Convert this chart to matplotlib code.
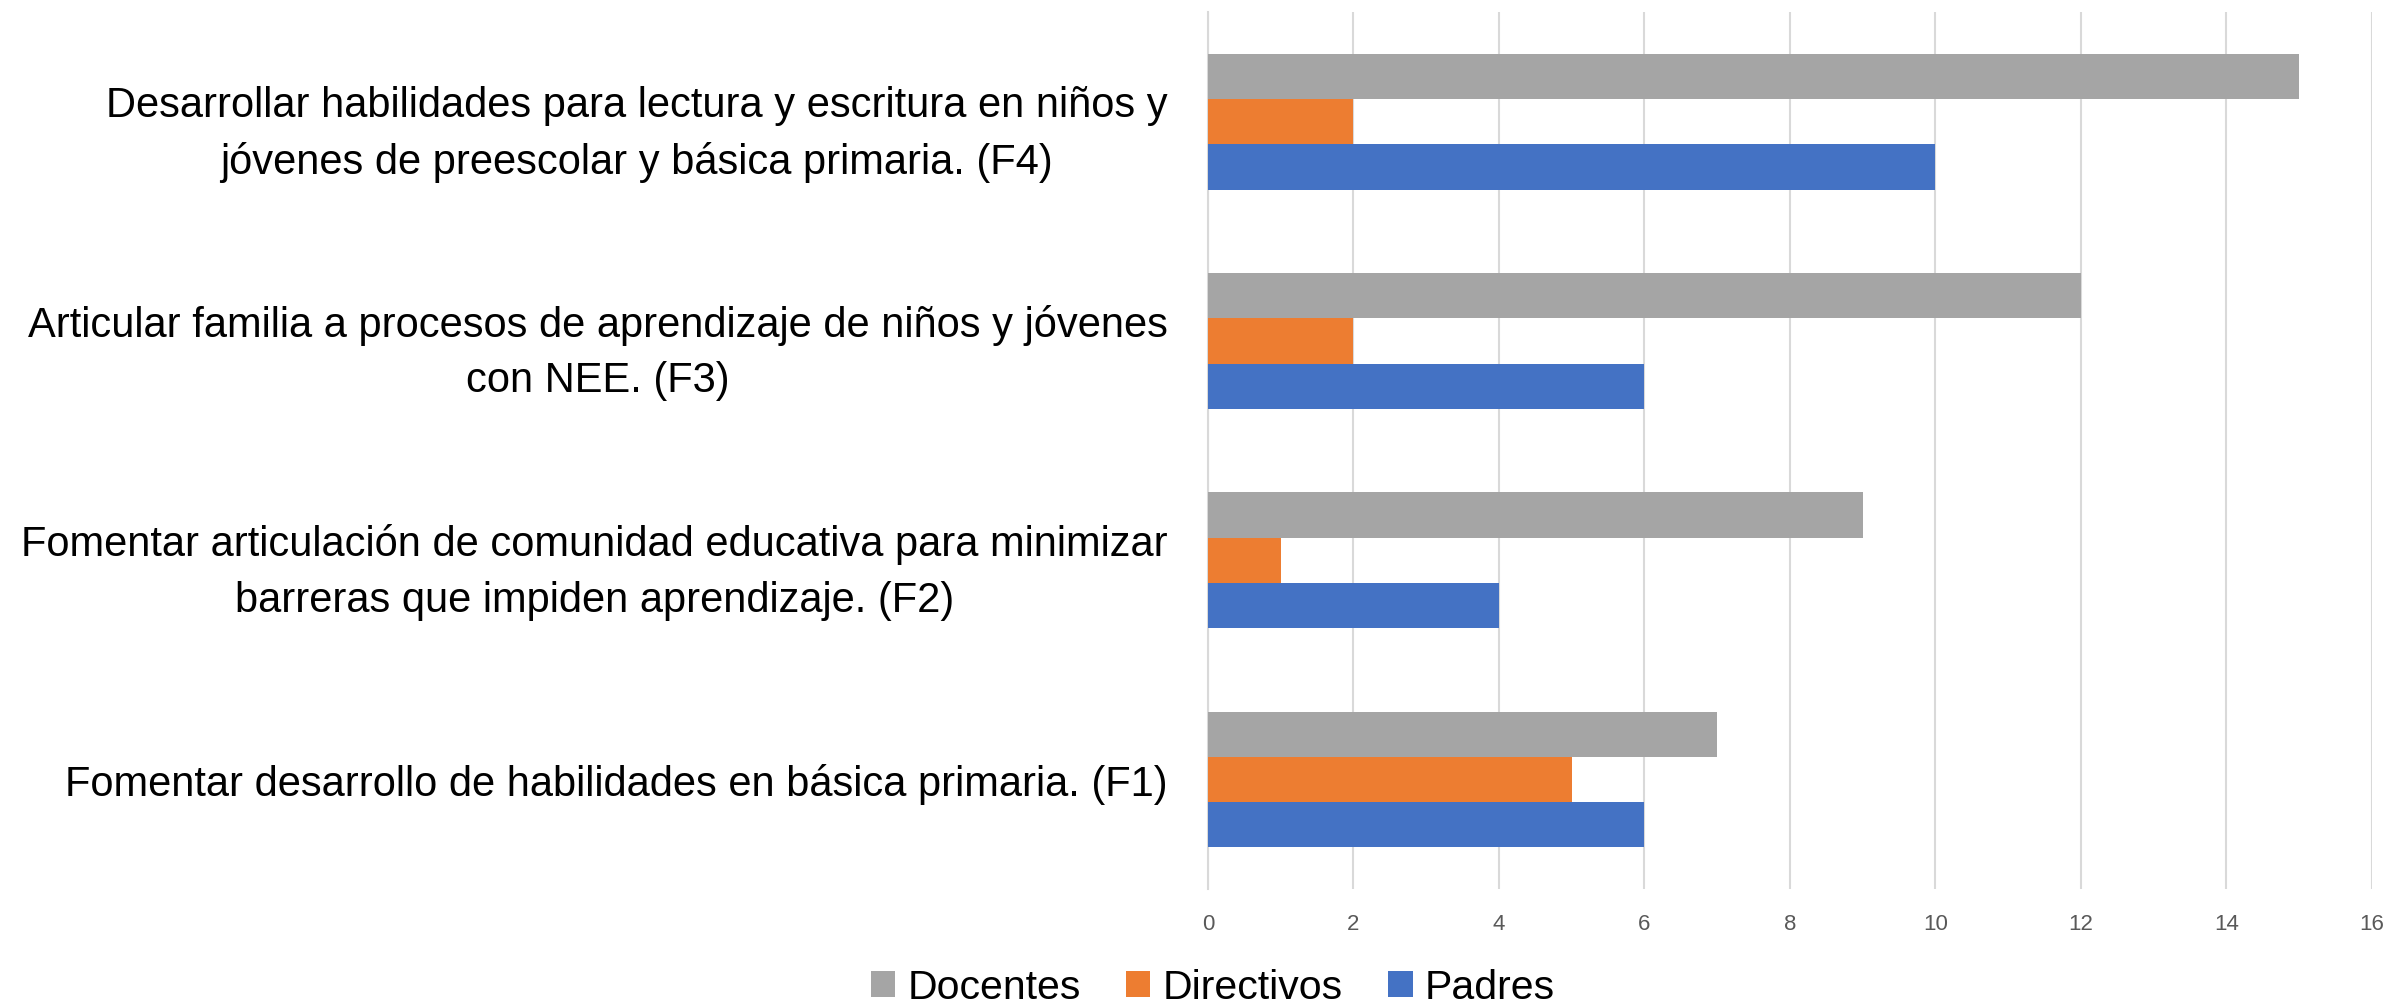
import matplotlib

matplotlib.use("Agg")
import matplotlib.pyplot as plt
import numpy as np

categories = [
    "Fomentar desarrollo de habilidades en básica primaria. (F1)",
    "Fomentar articulación de comunidad educativa para minimizar\nbarreras que impiden aprendizaje. (F2)",
    "Articular familia a procesos de aprendizaje de niños y jóvenes\ncon NEE. (F3)",
    "Desarrollar habilidades para lectura y escritura en niños y\njóvenes de preescolar y básica primaria. (F4)",
]
docentes = [7, 9, 12, 15]
directivos = [5, 1, 2, 2]
padres = [6, 4, 6, 10]
series_names = ["Docentes", "Directivos", "Padres"]
series_colors = ["#A5A5A5", "#ED7D31", "#4472C4"]
x_ticks = [0, 2, 4, 6, 8, 10, 12, 14, 16]

plt.rcParams["font.family"] = ["Liberation Sans", "DejaVu Sans"]
label_size = 30

fig = plt.figure(figsize=(23.92, 10.07), dpi=100)
ax = fig.add_axes([0.505, 0.117, 0.4866, 0.871])

y = np.arange(len(categories))
h = 0.2066
for offset, values, name, color in zip((h, 0, -h), (docentes, directivos, padres),
                                       series_names, series_colors):
    ax.barh(y + offset, values, height=h, color=color, label=name, zorder=3)

ax.set_xlim(0, 16)
ax.set_ylim(-0.5, len(categories) - 0.5)
ax.set_xticks(x_ticks)
ax.set_xticklabels([str(t) for t in x_ticks])
ax.set_yticks(y)
ax.set_yticklabels(categories, fontsize=label_size, multialignment="center",
                   linespacing=1.5)
ax.tick_params(axis="y", length=0, pad=29)
ax.tick_params(axis="x", length=0, pad=18, labelsize=16, labelcolor="#595959")
ax.grid(axis="x", color="#D9D9D9", linewidth=1.5, zorder=0)
for side in ("top", "right", "bottom"):
    ax.spines[side].set_visible(False)
ax.spines["left"].set_color("#D9D9D9")
ax.spines["left"].set_linewidth(1.5)

fig.legend(loc="center", bbox_to_anchor=(0.507, 0.019), ncol=3, frameon=False,
           fontsize=29.5, handlelength=0.6, handleheight=0.6,
           handletextpad=0.3, columnspacing=1.1)

fig.savefig("out.png", dpi=100)
